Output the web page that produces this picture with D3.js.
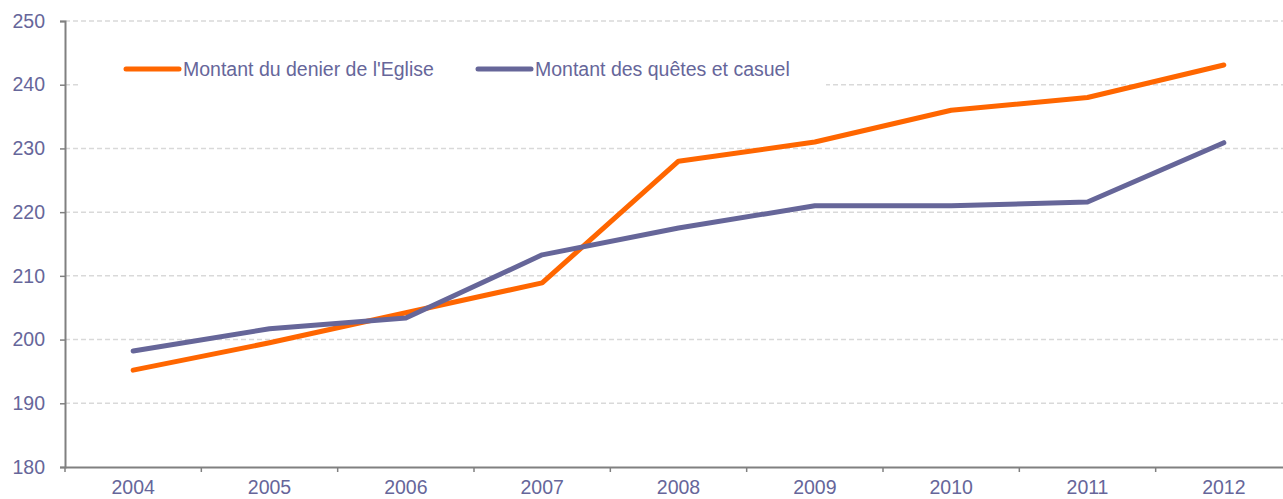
<!DOCTYPE html>
<html>
<head>
<meta charset="utf-8">
<script src="https://cdn.jsdelivr.net/npm/d3@7"></script>
<style>
  body { margin: 0; background: #fff; }
  svg { display: block; font-family: "Liberation Sans", Arial, sans-serif; }
</style>
</head>
<body>
<div class="chart"></div>
<script>
// Data
const years = ["2004", "2005", "2006", "2007", "2008", "2009", "2010", "2011", "2012"];
const denier = [195.2, 199.5, 204.2, 208.9, 228.0, 231.0, 236.0, 238.0, 243.1];
const quetes = [198.2, 201.7, 203.4, 213.3, 217.5, 221.0, 221.0, 221.6, 230.9];
const yTicks = [180, 190, 200, 210, 220, 230, 240, 250];
const seriesNames = ["Montant du denier de l'Eglise", "Montant des quêtes et casuel"];

const width = 1283, height = 499;
const plotLeft = 65, plotTop = 21, plotBottom = 467, plotRight = 1292;
const textColor = "#66669a";
const axisColor = "#808080";
const colors = ["#ff6600", "#666699"];
const fontSize = "19.5px";

const svg = d3.select("div.chart").append("svg")
    .attr("width", width)
    .attr("height", height);

const x = d3.scaleBand().domain(years).range([plotLeft, plotRight]);
const y = d3.scaleLinear().domain([180, 250]).range([plotBottom, plotTop]);

// Gridlines
svg.append("g").selectAll("line")
  .data(yTicks.filter(d => d > 180))
  .join("line")
    .attr("x1", plotLeft).attr("x2", width)
    .attr("y1", d => y(d)).attr("y2", d => y(d))
    .attr("stroke", "#d9d9d9")
    .attr("stroke-width", 1.5)
    .attr("stroke-dasharray", "5,3");

// Y axis
const yAxis = svg.append("g")
    .attr("transform", `translate(${plotLeft},0)`)
    .call(d3.axisLeft(y).tickValues(yTicks).tickSize(5).tickPadding(15).tickFormat(d3.format("d")));
yAxis.select(".domain").attr("stroke", axisColor).attr("stroke-width", 2);
yAxis.selectAll(".tick line").attr("stroke", axisColor).attr("stroke-width", 1.5);
yAxis.selectAll("text").attr("fill", textColor).style("font-size", fontSize)
    .attr("font-family", "Liberation Sans, Arial, sans-serif");

// X axis
const xAxis = svg.append("g")
    .attr("transform", `translate(0,${plotBottom})`)
    .call(d3.axisBottom(x).tickSize(0).tickPadding(13));
xAxis.select(".domain").attr("stroke", axisColor).attr("stroke-width", 2);
xAxis.selectAll("text").attr("fill", textColor).style("font-size", fontSize)
    .attr("font-family", "Liberation Sans, Arial, sans-serif");
// Tick marks on category boundaries
svg.append("g").selectAll("line")
  .data(years)
  .join("line")
    .attr("x1", d => x(d)).attr("x2", d => x(d))
    .attr("y1", plotBottom).attr("y2", plotBottom + 5)
    .attr("stroke", axisColor).attr("stroke-width", 1.5);

// Lines
const line = d3.line()
    .x((d, i) => x(years[i]) + x.bandwidth() / 2)
    .y(d => y(d));

[denier, quetes].forEach(function(series, i) {
  svg.append("path")
    .datum(series)
    .attr("d", line)
    .attr("fill", "none")
    .attr("stroke", colors[i])
    .attr("stroke-width", 5)
    .attr("stroke-linejoin", "round")
    .attr("stroke-linecap", "round");
});

// Legend
const legend = svg.append("g");
legend.append("rect")
    .attr("x", 80).attr("y", 45).attr("width", 746).attr("height", 48)
    .attr("fill", "#fff");
const legendX = [126, 478];
seriesNames.forEach(function(name, i) {
  legend.append("line")
    .attr("x1", legendX[i]).attr("x2", legendX[i] + 53)
    .attr("y1", 69).attr("y2", 69)
    .attr("stroke", colors[i]).attr("stroke-width", 5)
    .attr("stroke-linecap", "round");
  legend.append("text")
    .attr("x", legendX[i] + 57).attr("y", 76)
    .attr("fill", textColor)
    .style("font-size", fontSize)
    .text(name);
});
</script>
</body>
</html>
